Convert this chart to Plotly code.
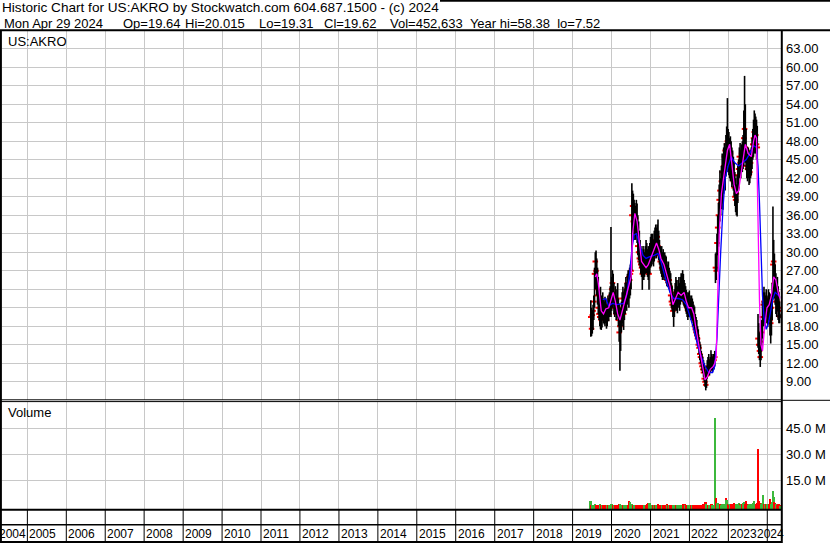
import pandas as pd
import plotly.graph_objects as go

W, H = 830, 543
FONT = "Liberation Sans, Arial, sans-serif"

# ---------------- data (weekly bars) ----------------
start_date = "2019-06-21"
n_weeks = 254
last_day = "2024-04-29"

highs = [
    22.2, 21.0, 20.6, 21.5, 23.0, 27.5, 30.0, 30.3, 29.0, 27.5,
    26.0, 24.0, 23.5, 24.4, 23.0, 22.0, 23.5, 22.5, 22.0, 22.8,
    22.5, 21.5, 22.0, 23.0, 22.5, 23.5, 24.5, 34.1, 26.0, 27.1,
    26.5, 25.0, 23.5, 24.5, 23.0, 24.0, 25.0, 22.5, 21.7, 20.0,
    21.0, 22.0, 23.5, 24.4, 23.5, 24.0, 25.0, 26.0, 25.0, 26.5,
    27.1, 27.0, 27.5, 28.0, 28.5, 41.2, 40.0, 39.5, 38.5, 38.0,
    37.5, 38.5, 37.9, 36.0, 35.0, 33.5, 32.0, 31.0, 30.5, 30.0,
    31.0, 30.5, 30.0, 31.0, 32.0, 31.5, 30.5, 31.0, 30.0, 31.5,
    32.5, 33.0, 32.5, 33.0, 32.0, 33.5, 34.0, 34.5, 34.0, 34.5,
    35.3, 33.5, 32.0, 31.0, 30.5, 31.0, 30.0, 30.5, 29.5, 30.0,
    29.5, 29.3, 28.5, 28.0, 28.5, 27.5, 27.0, 26.6, 25.0, 24.5,
    23.5, 23.0, 24.0, 25.0, 26.0, 25.5, 24.5, 25.5, 26.0, 25.0,
    26.0, 26.6, 26.5, 27.1, 26.5, 25.5, 25.0, 24.5, 23.9, 23.5,
    23.0, 23.5, 23.8, 23.0, 22.5, 23.0, 22.5, 22.0, 21.5, 21.2,
    20.0, 19.5, 19.0, 18.0, 17.5, 16.3, 15.5, 15.0, 14.0, 13.5,
    13.0, 12.5, 12.0, 11.0, 10.5, 11.5, 12.5, 13.0, 13.5, 12.5,
    13.0, 14.1, 13.5, 13.0, 13.5, 13.5, 14.0, 29.8, 30.0, 33.0,
    36.0, 38.0, 41.0, 43.3, 42.0, 44.0, 46.0, 45.0, 47.0, 47.7,
    47.0, 49.0, 50.4, 55.0, 50.0, 49.5, 48.5, 48.8, 48.0, 47.0,
    46.5, 45.5, 44.5, 43.0, 42.0, 41.0, 42.5, 44.0, 45.0, 47.0,
    47.7, 46.5, 47.5, 48.0, 49.0, 53.0, 58.6, 54.0, 50.0, 47.1,
    46.0, 47.0, 46.5, 45.5, 46.5, 47.0, 48.5, 50.0, 51.5, 53.0,
    52.5, 52.0, 51.5, 50.5, 20.0, 18.5, 17.0, 16.0, 17.5, 19.0,
    22.0, 23.5, 24.4, 23.5, 23.0, 24.0, 23.0, 22.5, 24.0, 23.5,
    23.3, 22.5, 23.0, 25.0, 37.4, 32.0, 29.8, 28.0, 26.6, 25.5,
    26.0, 24.5, 23.5, 22.0, 20.015,
]
lows = [
    16.3, 16.4, 16.8, 17.4, 19.0, 21.0, 24.0, 24.5, 23.0, 21.5,
    20.0, 19.0, 18.0, 17.5, 17.4, 17.8, 19.0, 18.5, 18.3, 18.0,
    18.5, 17.6, 18.0, 19.0, 18.8, 19.5, 20.0, 19.5, 20.5, 21.0,
    22.0, 20.0, 19.5, 20.0, 19.0, 19.2, 20.5, 18.0, 15.5, 10.8,
    14.0, 17.0, 18.5, 18.0, 17.4, 19.0, 20.0, 21.0, 20.5, 21.5,
    22.0, 21.0, 22.5, 23.0, 24.0, 27.0, 33.0, 33.5, 32.0, 32.5,
    32.0, 33.0, 31.5, 29.5, 28.7, 28.0, 27.5, 26.5, 26.0, 23.9,
    25.5, 25.5, 26.0, 26.5, 27.0, 26.6, 26.0, 25.5, 23.9, 26.5,
    27.5, 27.7, 28.0, 28.5, 27.7, 28.5, 29.0, 29.5, 29.0, 29.5,
    30.0, 28.7, 28.0, 27.0, 26.5, 26.0, 25.5, 26.0, 25.5, 26.0,
    25.5, 25.0, 24.5, 24.4, 24.5, 24.0, 23.5, 22.0, 21.0, 20.5,
    19.5, 17.9, 19.5, 20.5, 21.0, 20.5, 20.1, 21.0, 21.5, 20.5,
    21.5, 22.0, 22.0, 22.5, 21.5, 21.2, 21.0, 20.5, 20.0, 19.5,
    19.0, 19.5, 20.0, 19.5, 19.0, 19.2, 19.0, 18.5, 18.0, 17.0,
    16.5, 16.0, 15.5, 15.2, 14.5, 13.5, 12.5, 12.0, 11.5, 10.8,
    10.4, 9.8, 9.0, 8.2, 7.6, 8.0, 9.5, 10.0, 10.5, 10.0,
    10.4, 11.0, 10.8, 10.5, 11.0, 11.0, 11.5, 25.0, 25.5, 27.0,
    29.5, 30.9, 33.0, 35.0, 36.0, 37.0, 38.0, 36.9, 39.5, 40.5,
    40.0, 42.3, 43.0, 44.0, 43.0, 42.5, 42.0, 41.5, 42.0, 40.6,
    41.0, 40.0, 39.0, 37.5, 36.5, 36.0, 35.8, 38.0, 40.0, 42.0,
    42.8, 42.0, 43.0, 43.0, 43.5, 44.0, 45.0, 44.5, 43.3, 42.0,
    41.5, 42.0, 40.9, 41.2, 42.0, 42.5, 43.5, 45.0, 45.5, 46.0,
    46.5, 46.0, 45.0, 45.0, 14.5, 13.5, 12.5, 11.4, 12.5, 14.0,
    16.0, 18.0, 18.5, 18.0, 18.5, 19.5, 18.5, 17.9, 19.0, 19.5,
    16.5, 15.2, 16.5, 19.0, 22.3, 23.0, 22.5, 21.5, 20.0, 19.5,
    20.5, 19.0, 18.5, 18.5, 19.31,
]
closes = [
    19.5, 17.6, 19.8, 20.5, 22.0, 26.5, 28.5, 27.0, 24.0, 23.0,
    21.0, 20.0, 19.5, 21.0, 19.0, 20.5, 21.5, 20.0, 19.5, 21.0,
    20.5, 19.0, 20.5, 21.5, 20.0, 22.0, 22.5, 23.0, 24.0, 25.0,
    23.5, 21.0, 22.0, 21.5, 20.0, 22.5, 21.0, 19.0, 17.0, 18.0,
    19.5, 20.0, 21.0, 22.5, 20.0, 22.0, 23.5, 22.5, 24.0, 25.0,
    24.5, 26.0, 25.5, 26.5, 27.0, 36.0, 37.5, 35.0, 36.0, 34.5,
    35.5, 34.0, 33.0, 31.0, 30.0, 29.0, 28.5, 28.0, 27.5, 26.5,
    28.5, 27.0, 28.0, 29.0, 29.5, 28.0, 27.5, 26.5, 26.5, 29.0,
    30.0, 30.5, 29.5, 31.0, 29.5, 31.5, 32.0, 31.0, 31.5, 32.5,
    31.0, 30.0, 29.5, 28.5, 29.0, 27.5, 28.0, 27.0, 28.0, 27.0,
    26.5, 26.0, 25.5, 26.5, 25.0, 25.5, 24.5, 23.0, 22.0, 21.5,
    20.5, 21.0, 22.5, 23.0, 23.5, 22.0, 22.5, 23.5, 22.5, 23.0,
    24.0, 24.5, 23.5, 24.0, 23.0, 22.5, 22.0, 22.5, 21.5, 21.0,
    20.5, 21.5, 22.0, 20.5, 21.0, 20.0, 20.5, 19.5, 19.0, 18.0,
    17.5, 17.0, 16.5, 16.0, 15.0, 14.5, 13.5, 13.0, 12.0, 11.5,
    11.0, 10.5, 9.5, 9.0, 8.5, 10.0, 11.0, 11.5, 11.0, 11.5,
    12.0, 12.5, 11.5, 12.0, 12.5, 12.5, 13.0, 27.5, 27.0, 31.5,
    34.0, 36.0, 38.5, 40.0, 38.0, 41.5, 43.0, 40.5, 44.0, 45.5,
    46.5, 45.0, 47.5, 48.0, 45.5, 47.0, 44.5, 46.0, 43.5, 44.5,
    42.5, 41.5, 40.5, 39.0, 38.5, 39.5, 40.5, 42.5, 43.5, 45.5,
    44.5, 45.0, 46.0, 45.0, 46.5, 48.5, 50.0, 47.0, 45.5, 44.0,
    43.5, 45.0, 42.5, 43.0, 44.5, 45.5, 46.5, 47.5, 48.5, 49.5,
    48.0, 49.0, 47.5, 47.0, 16.0, 15.0, 14.0, 13.0, 15.5, 17.0,
    19.5, 21.5, 22.0, 21.0, 22.5, 21.5, 20.5, 21.0, 22.5, 21.0,
    19.0, 18.5, 21.0, 23.0, 28.0, 28.5, 25.0, 24.0, 22.0, 23.5,
    22.0, 21.0, 20.5, 19.6, 19.62,
]
volumes_m = [
    3.1, 1.0, 0.8, 0.6, 0.7, 1.0, 1.2, 0.8, 0.7, 0.6,
    0.8, 0.7, 0.9, 1.2, 0.6, 0.5, 0.7, 0.6, 0.5, 0.6,
    0.7, 0.5, 0.6, 0.8, 0.6, 0.7, 1.0, 1.3, 1.2, 0.8,
    1.0, 0.7, 0.6, 1.0, 0.6, 0.7, 0.8, 0.9, 1.1, 1.5,
    1.0, 0.8, 0.7, 0.6, 0.8, 0.7, 0.6, 0.7, 0.8, 0.9,
    1.0, 1.2, 3.0, 2.5, 1.5, 1.2, 1.0, 0.9, 0.8, 0.7,
    0.8, 0.7, 0.6, 0.9, 0.7, 0.6, 0.5, 0.6, 0.7, 0.8,
    0.6, 0.7, 0.6, 0.8, 0.9, 1.0, 1.2, 1.7, 1.0, 2.1,
    1.3, 0.8, 0.7, 0.6, 0.5, 0.6, 0.7, 0.6, 0.8, 0.9,
    1.2, 0.8, 0.6, 0.5, 0.6, 0.5, 0.6, 0.7, 0.5, 0.6,
    0.7, 0.8, 1.5, 0.8, 0.6, 0.5, 0.6, 0.7, 0.8, 0.6,
    0.9, 0.7, 0.6, 0.5, 0.6, 0.5, 0.6, 0.5, 0.6, 0.7,
    0.6, 0.7, 0.8, 0.9, 1.1, 1.5, 1.4, 0.8, 0.6, 0.5,
    0.6, 0.5, 0.6, 0.5, 0.7, 0.6, 0.5, 0.6, 0.7, 0.8,
    0.7, 0.6, 0.8, 0.7, 0.9, 0.8, 0.7, 0.9, 1.0, 0.8,
    0.9, 1.1, 1.3, 1.8, 2.7, 1.5, 1.0, 0.8, 0.7, 0.9,
    0.8, 0.7, 1.2, 0.9, 0.8, 0.9, 1.0, 51.0, 5.0, 2.0,
    1.8, 1.5, 1.2, 1.6, 1.2, 1.0, 1.3, 1.1, 1.4, 1.2,
    1.5, 5.0, 3.5, 2.0, 1.4, 1.2, 1.0, 1.3, 1.1, 1.0,
    1.2, 1.5, 1.8, 1.4, 1.6, 1.5, 1.3, 1.2, 1.0, 1.8,
    1.2, 1.0, 1.1, 1.3, 1.5, 2.0, 2.5, 1.5, 3.0, 1.4,
    1.2, 1.0, 1.3, 1.1, 1.2, 1.0, 1.4, 1.6, 1.8, 3.0,
    1.5, 1.2, 1.4, 1.8, 33.3, 3.0, 2.0, 1.8, 1.5, 1.6,
    2.0, 6.7, 1.5, 1.3, 1.4, 1.2, 1.0, 1.5, 1.3, 1.1,
    4.4, 2.0, 1.6, 2.4, 8.8, 5.6, 2.5, 1.8, 1.5, 1.2,
    1.0, 1.1, 1.3, 0.9, 0.45,
]

# moving-average lines at the weeks given
ma_fast_weeks = [6, 8, 10, 12, 14, 17, 20, 24, 27, 30, 33, 36, 39, 42, 45, 48, 51, 54,
                 56, 59, 62, 65, 68, 71, 74, 77, 80, 84, 88, 91, 94, 98, 102, 106, 110,
                 113, 117, 121, 125, 128, 131, 135, 138, 141, 144, 147, 150, 153, 156,
                 160, 164, 166, 168, 170, 172, 175, 179, 183, 186, 189, 192, 195, 198,
                 201, 204, 207, 211, 215, 218, 220, 222, 224, 226, 228, 230, 233, 236,
                 239, 242, 245, 248, 251, 254]
ma_fast_vals = [26.0, 26.5, 25.0, 22.5, 20.5, 20.0, 20.8, 21.0, 22.5, 23.5, 22.0, 20.0,
                19.0, 20.5, 21.5, 23.0, 24.5, 26.0, 33.0, 36.3, 35.0, 31.5, 28.5, 28.0,
                27.5, 28.0, 29.0, 30.0, 31.5, 30.5, 29.0, 28.0, 26.0, 24.5, 21.5, 22.5,
                23.5, 23.0, 23.5, 22.0, 21.0, 21.0, 20.0, 17.5, 15.5, 13.5, 11.0, 9.3,
                9.8, 11.0, 11.5, 12.0, 13.0, 23.0, 33.0, 39.5, 43.5, 46.5, 47.5, 44.5,
                41.0, 39.5, 40.0, 42.5, 45.0, 47.5, 46.0, 45.5, 48.0, 49.0, 48.5, 35.0,
                22.0, 15.0, 14.0, 18.0, 21.0, 21.5, 23.0, 26.0, 25.5, 23.5, 22.5]
ma_slow_weeks = [16, 20, 24, 29, 35, 40, 44, 48, 52, 55, 58, 61, 66, 70, 74, 79, 85, 90,
                 94, 98, 102, 106, 111, 117, 123, 128, 133, 138, 143, 148, 153, 158, 163,
                 166, 169, 171, 174, 177, 180, 184, 188, 193, 198, 203, 208, 213, 218,
                 222, 224, 226, 228, 230, 232, 235, 238, 241, 244, 247, 251, 254]
ma_slow_vals = [22.3, 22.5, 21.3, 21.7, 21.5, 21.6, 21.7, 23.0, 26.5, 30.5, 32.8, 33.0,
                31.0, 29.5, 29.0, 29.3, 29.5, 29.8, 28.5, 26.5, 25.0, 23.5, 22.5, 22.5,
                22.3, 21.5, 19.5, 17.5, 15.0, 13.0, 11.5, 10.5, 10.5, 11.5, 16.0, 22.0,
                30.0, 37.0, 42.0, 44.0, 45.5, 44.5, 44.0, 44.5, 45.0, 46.0, 47.3, 47.0,
                44.0, 38.0, 30.0, 23.0, 19.5, 17.5, 18.5, 20.5, 22.5, 23.5, 23.0, 22.8]

price_ticks = [9, 12, 15, 18, 21, 24, 27, 30, 33, 36, 39, 42, 45, 48, 51, 54, 57, 60, 63]
vol_ticks_m = [15, 30, 45]
year_labels = list(range(2004, 2025))

header_1 = "Historic Chart for US:AKRO by Stockwatch.com 604.687.1500 - (c) 2024"
header_fields = ["Mon Apr 29 2024", "Op=19.64", "Hi=20.015", "Lo=19.31", "Cl=19.62",
                 "Vol=452,633\u00a0\u00a0Year hi=58.38\u00a0\u00a0lo=7.52"]
symbol_label = "US:AKRO"
volume_label = "Volume"

# ---------------- build ----------------
dates = list(pd.date_range(start_date, periods=n_weeks, freq="7D")) + [pd.Timestamp(last_day)]
assert len(highs) == len(lows) == len(closes) == len(volumes_m) == len(dates)

def PX(x):
    return x / W

def PY(y):
    return 1 - y / H

hl_x, hl_y = [], []
for d, lo, hi in zip(dates, lows, highs):
    hl_x += [d, d, None]
    hl_y += [lo, hi, None]

vol_colors = ["#3cb83c"]
for i in range(1, len(closes)):
    vol_colors.append("#3cb83c" if closes[i] >= closes[i - 1] else "#ff0000")

VOL_FLOOR = -1.85e6
DAY_MS = 24 * 3600 * 1000
fig = go.Figure()
fig.add_trace(go.Scatter(x=dates, y=closes, mode="markers", xaxis="x", yaxis="y",
                         marker=dict(symbol="line-ew", size=4, line=dict(color="#ff0000", width=2)),
                         hoverinfo="skip", showlegend=False))
fig.add_trace(go.Scatter(x=hl_x, y=hl_y, mode="lines", xaxis="x", yaxis="y",
                         line=dict(color="#000000", width=1.6), hoverinfo="skip", showlegend=False))
fig.add_trace(go.Scatter(x=[dates[i] for i in ma_slow_weeks], y=ma_slow_vals, mode="lines",
                         line=dict(color="#0000ff", width=1.3), xaxis="x", yaxis="y",
                         hoverinfo="skip", showlegend=False))
fig.add_trace(go.Scatter(x=[dates[i] for i in ma_fast_weeks], y=ma_fast_vals, mode="lines",
                         line=dict(color="#ff00ff", width=1.3), xaxis="x", yaxis="y",
                         hoverinfo="skip", showlegend=False))
fig.add_trace(go.Bar(x=dates, y=[v * 1e6 - VOL_FLOOR for v in volumes_m], base=VOL_FLOOR,
                     marker=dict(color=vol_colors, line=dict(width=0)),
                     width=16 * DAY_MS, xaxis="x2", yaxis="y2",
                     hoverinfo="skip", showlegend=False))

x_dom = [PX(2), PX(782)]
xr = ["2004-05-08", "2024-05-18"]
grid = "#c8c8c8"
common_x = dict(domain=x_dom, range=xr, type="date", showticklabels=False, ticks="",
                showgrid=True, gridcolor=grid, gridwidth=1, dtick="M12", tick0="2004-01-01",
                showline=False, zeroline=False)
fig.update_layout(
    width=W, height=H, margin=dict(l=0, r=0, t=0, b=0),
    paper_bgcolor="white", plot_bgcolor="white", bargap=0, barmode="overlay",
    font=dict(family=FONT, size=13, color="#000000"),
    xaxis=dict(**common_x, anchor="y"),
    xaxis2=dict(**common_x, anchor="y2", matches="x"),
    yaxis=dict(domain=[PY(400), PY(31)], range=[6.04, 65.88], side="right", anchor="x",
               tickvals=price_ticks, ticktext=[f"{v:.2f}" for v in price_ticks],
               showgrid=True, gridcolor=grid, zeroline=False, showline=False, ticks="",
               ticklabelstandoff=3, tickfont=dict(size=13, family=FONT, color="#000000")),
    yaxis2=dict(domain=[PY(509.5), PY(402)], range=[VOL_FLOOR, 60.17e6], side="right", anchor="x2",
                tickvals=[v * 1e6 for v in vol_ticks_m], ticktext=[f"{v:.1f} M" for v in vol_ticks_m],
                showgrid=True, gridcolor=grid, zeroline=False, showline=False, ticks="",
                ticklabelstandoff=3, tickfont=dict(size=13, family=FONT, color="#000000")),
)

shapes = []
def pline(x0, y0, x1, y1, w=2):
    shapes.append(dict(type="line", xref="paper", yref="paper", x0=PX(x0), y0=PY(y0),
                       x1=PX(x1), y1=PY(y1), line=dict(color="#000000", width=w), layer="above"))

pline(0, 30.3, W, 30.3, 2)          # header separator
pline(440, 0.8, W, 0.8, 2)          # top edge
pline(0.9, 30, 0.9, H, 2)           # left border
pline(781.8, 30, 781.8, H, 2)       # right of plot
pline(0, 399.8, 782, 399.8, 1)      # double line
pline(0, 401.6, 782, 401.6, 1)
pline(782, 400.3, W, 400.3, 1)
pline(0, 509.8, 782, 509.8, 2)
pline(0, 524.8, 782, 524.8, 1.5)
pline(0, 542, 782, 542, 2)
for yr in year_labels[1:]:
    shapes.append(dict(type="line", xref="x", yref="paper", x0=f"{yr}-01-01", x1=f"{yr}-01-01",
                       y0=PY(510), y1=PY(542), line=dict(color="#000000", width=1), layer="above"))
fig.update_layout(shapes=shapes)

ann = []
def text(x, y, s, size=13, xref="paper", xshift=0, xanchor="left"):
    ann.append(dict(x=x if xref != "paper" else PX(x), y=PY(y), xref=xref, yref="paper", text=s,
                    showarrow=False, xanchor=xanchor, yanchor="middle", xshift=xshift,
                    font=dict(family=FONT, size=size, color="#000000")))

text(0, 8, header_1, size=13.6)
for xpos, s in zip([2, 120.7, 182.7, 256.7, 322, 388.3], header_fields):
    text(xpos, 23, s, size=13)
text(6, 41, symbol_label)
text(6, 413, volume_label)
text(-3, 534, str(year_labels[0]), size=12)
for yr in year_labels[1:-1]:
    text(f"{yr}-01-01", 534, str(yr), size=12, xref="x", xshift=0)
text(786, 534, str(year_labels[-1]), size=12, xanchor="right")
fig.update_layout(annotations=ann)

fig.write_html("out.html", config={"displayModeBar": False},
               post_script="document.body.style.margin='0';document.body.style.overflow='hidden';")
